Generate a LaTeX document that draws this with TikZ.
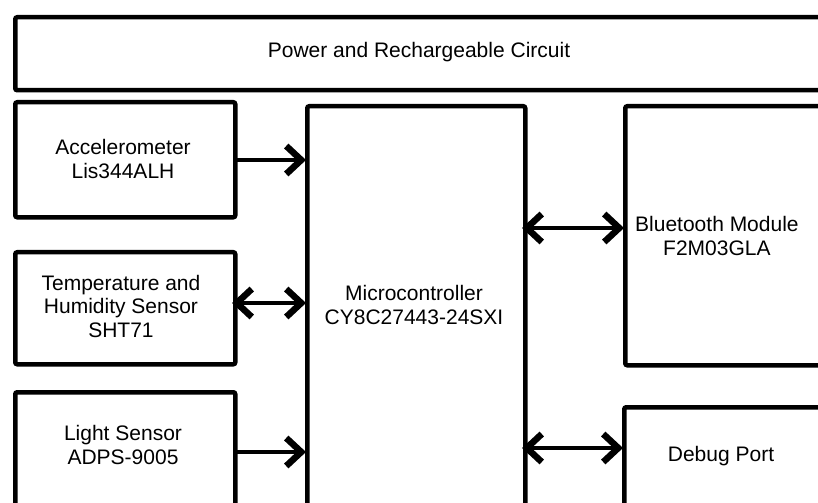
\documentclass[tikz,border=0pt]{standalone}
\usepackage{fontspec}
\setmainfont{Liberation Sans}
\usetikzlibrary{arrows.meta}
\begin{document}
\begin{tikzpicture}[x=1bp,y=-1bp,
  box/.style={draw, line width=4.5bp, rounded corners=2bp, inner sep=0pt, anchor=north west},
  lbl/.style={align=center, font=\fontsize{21bp}{23.5bp}\selectfont, inner sep=0pt},
  tipbarb/.tip={Straight Barb[length=15bp,width=28bp,line width=6.5bp]},
  uni/.style={line width=4bp, -tipbarb, shorten >=-1bp},
  bi/.style={line width=4bp, tipbarb-tipbarb, shorten >=-1bp, shorten <=-1bp}]
\useasboundingbox (0,0) rectangle (818,503);
\clip (0,0) rectangle (818,503);
% boxes
\node[box, minimum width=830bp, minimum height=73bp] (pwr) at (13,15) {};
\node[box, minimum width=220bp, minimum height=115bp] (acc) at (13,100) {};
\node[box, minimum width=220bp, minimum height=112bp] (tmp) at (13,250) {};
\node[box, minimum width=220bp, minimum height=140bp] (lgt) at (13,390) {};
\node[box, minimum width=218bp, minimum height=430bp] (mcu) at (305,104) {};
\node[box, minimum width=220bp, minimum height=259bp] (bt) at (623,104) {};
\node[box, minimum width=220bp, minimum height=130bp] (dbg) at (622,405) {};
% texts
\node[lbl] (tpwr) at (419,52) {Power and Rechargeable Circuit};
\node[lbl] (tacc) at (123,159) {Accelerometer\\Lis344ALH};
\node[lbl] (ttmp) at (121,306) {Temperature and\\Humidity Sensor\\SHT71};
\node[lbl] (tlgt) at (123,445) {Light Sensor\\ADPS-9005};
\node[lbl] (tmcu) at (414,305) {Microcontroller\\CY8C27443-24SXI};
\node[lbl, anchor=west] (tbt) at (635,236) {Bluetooth Module\\F2M03GLA};
\node[lbl] (tdbg) at (721,456) {Debug Port};
% connectors
\coordinate (a1) at (233,160);
\coordinate (a2) at (233,303);
\coordinate (a3) at (233,452);
\coordinate (b1) at (523,228);
\coordinate (b2) at (523,448);
\draw[uni] (a1) -- (a1 -| mcu.west);
\draw[bi] (a2) -- (a2 -| mcu.west);
\draw[uni] (a3) -- (a3 -| mcu.west);
\draw[bi] (b1) -- (b1 -| bt.west);
\draw[bi] (b2) -- (b2 -| dbg.west);
\end{tikzpicture}
\end{document}
